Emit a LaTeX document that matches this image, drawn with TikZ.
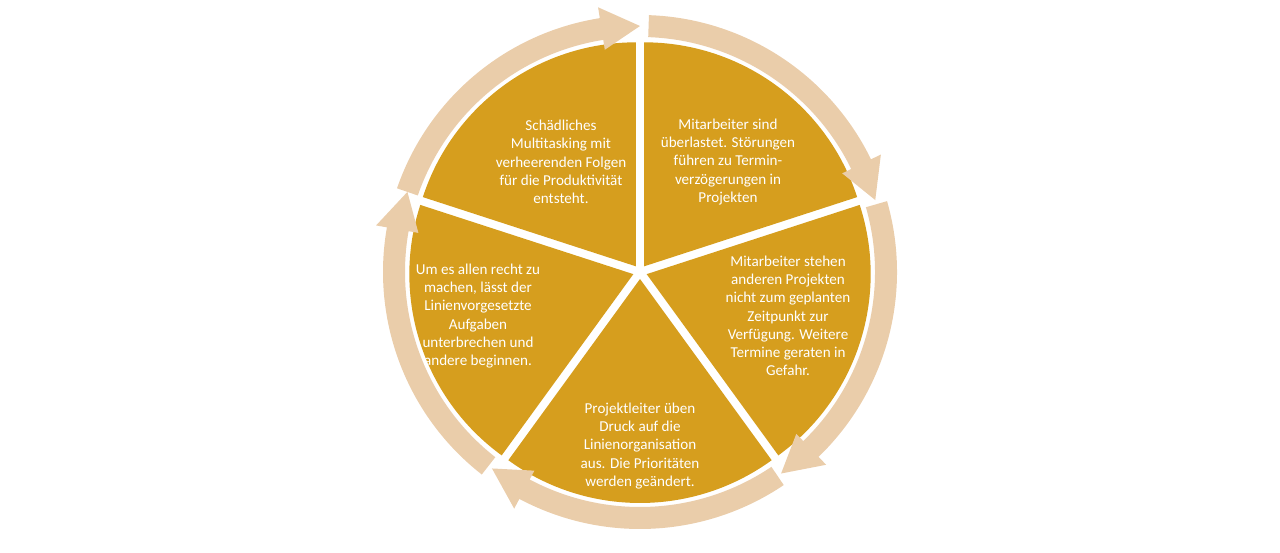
\documentclass[tikz,border=0pt]{standalone}
\usepackage{fontspec}
\setmainfont{Carlito}
\definecolor{wedge}{HTML}{D69E1E}
\definecolor{ring}{HTML}{EACDAA}
\begin{document}
\begin{tikzpicture}[x=0.02cm,y=0.02cm,
  txt/.style={text=white,align=center,font=\fontsize{8.6}{10.4}\selectfont,inner sep=0pt}]
\useasboundingbox (0,0) rectangle (1280,553);
\coordinate (c) at (640,281);
% wedges
\foreach \b in {162,90,18,-54,-126}{
  \pgfmathsetmacro\m{\b-36}
  \fill[wedge] ([shift={(\m:7)}]c) -- ++(\b-72:224) arc[start angle=\b-72,end angle=\b,radius=224] -- cycle;
}
% ring arrows
\foreach \t in {161,88,16,-56,-128}{
  \pgfmathsetmacro\e{\t-62}
  \pgfmathsetmacro\p{\t-71}
  \fill[ring] ([shift={(\t:235)}]c) arc[start angle=\t,end angle=\e,radius=235]
    -- ([shift={(\e:225)}]c) -- ([shift={(\p:246)}]c) -- ([shift={(\e:268)}]c)
    -- ([shift={(\e:257)}]c) arc[start angle=\e,end angle=\t,radius=257] -- cycle;
}
\node[txt] (t1) at (561,391) {Schädliches\\Multitasking mit\\verheerenden Folgen\\für die Produktivität\\entsteht.};
\node[txt] (t2) at (728,391) {Mitarbeiter sind\\überlastet. Störungen\\führen zu Termin-\\verzögerungen in\\Projekten};
\node[txt] (t3) at (788,237) {Mitarbeiter stehen\\anderen Projekten\\nicht zum geplanten\\Zeitpunkt zur\\Verfügung. Weitere\\Termine geraten in\\Gefahr.};
\node[txt] (t4) at (640,107) {Projektleiter üben\\Druck auf die\\Linienorganisation\\aus. Die Prioritäten\\werden geändert.};
\node[txt] (t5) at (478,237) {Um es allen recht zu\\machen, lässt der\\Linienvorgesetzte\\Aufgaben\\unterbrechen und\\andere beginnen.};
\end{tikzpicture}
\end{document}
